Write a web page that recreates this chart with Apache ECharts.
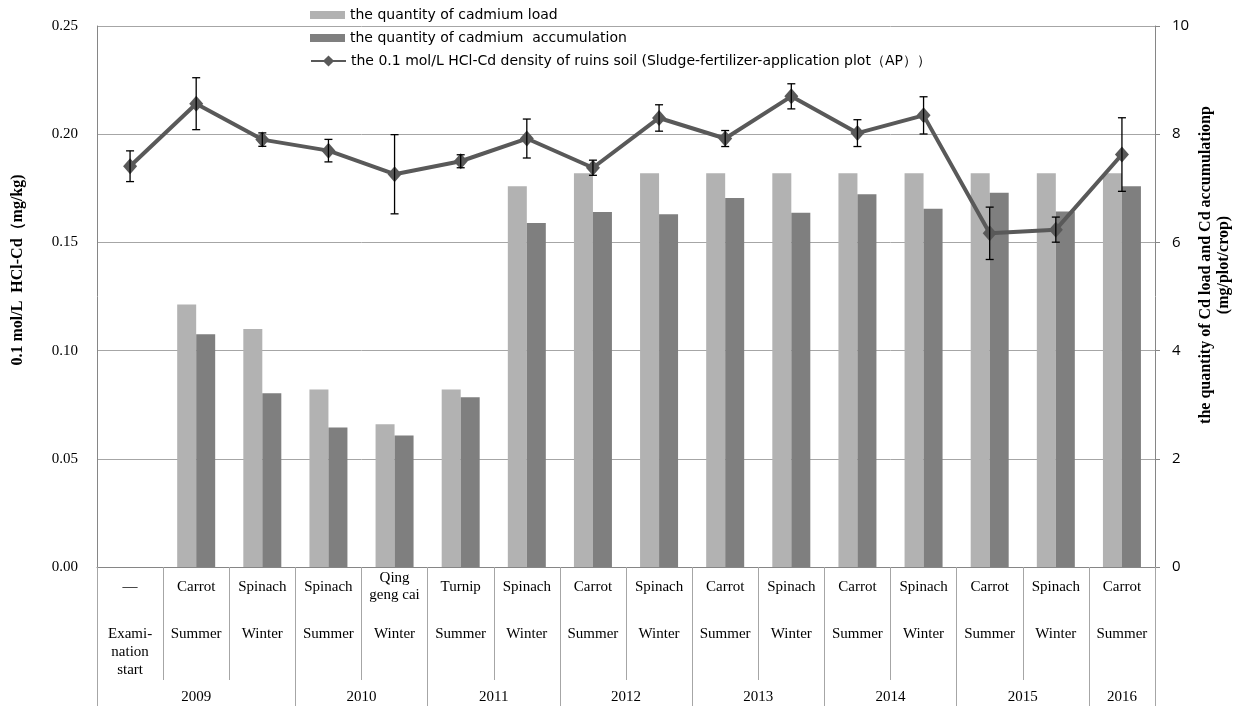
<!DOCTYPE html>
<html><head><meta charset="utf-8">
<script src="https://cdn.jsdelivr.net/npm/echarts@6/dist/echarts.min.js"></script>
<style>html,body{margin:0;padding:0;background:#fff}#c{width:1240px;height:706px}</style>
</head><body><div id="c"></div>
<script>
// ---- data ----
const crops = ['—','Carrot','Spinach','Spinach','Qing\ngeng cai','Turnip','Spinach','Carrot','Spinach','Carrot','Spinach','Carrot','Spinach','Carrot','Spinach','Carrot'];
const seasons = ['Exami-\nnation\nstart','Summer','Winter','Summer','Winter','Summer','Winter','Summer','Winter','Summer','Winter','Summer','Winter','Summer','Winter','Summer'];
const years = ['2009','2010','2011','2012','2013','2014','2015','2016'];
const yearSpans = [3,2,2,2,2,2,2,1];
const cdLoad = [null,4.85,4.40,3.28,2.64,3.28,7.04,7.28,7.28,7.28,7.28,7.28,7.28,7.28,7.28,7.28];
const cdAccum = [null,4.30,3.21,2.58,2.43,3.14,6.36,6.56,6.52,6.82,6.55,6.89,6.62,6.92,6.57,7.04];
const hclCd = [0.1852,0.2141,0.1975,0.1924,0.1815,0.1875,0.1980,0.1845,0.2075,0.1980,0.2175,0.2005,0.2087,0.1542,0.1559,0.1906];
const hclErr = [0.0071,0.0120,0.0031,0.0052,0.0183,0.0030,0.0090,0.0035,0.0061,0.0037,0.0058,0.0062,0.0086,0.0121,0.0058,0.0170];
const leftTickLabels = ['0.00','0.05','0.10','0.15','0.20','0.25'];
const rightTickLabels = ['0','2','4','6','8','10'];
const nameLoad = 'the quantity of cadmium load';
const nameAccum = 'the quantity of cadmium  accumulation';
const nameHcl = 'the 0.1 mol/L HCl-Cd density of ruins soil (Sludge-fertilizer-application plot（AP））';
const leftTitle = '0.1 mol/L  HCl-Cd（mg/kg)';
const rightTitle1 = 'the quantity of Cd load and Cd accumulationp';
const rightTitle2 = '(mg/plot/crop)';

// year boundaries / centres derived from spans
const yearBounds = [0];
yearSpans.forEach(s => yearBounds.push(yearBounds[yearBounds.length-1] + s));
const yearCenters = yearSpans.map((s,i) => yearBounds[i] + s/2);

const serif = '"Liberation Serif","Times New Roman",serif';
const sans = '"Open Sans","Liberation Sans",sans-serif';
const legendFont = '"DejaVu Sans",sans-serif';
const gridCol = '#a6a6a6';
const axisCol = '#868686';

const chart = echarts.init(document.getElementById('c'), null, {renderer:'canvas'});
chart.setOption({
  animation:false,
  backgroundColor:'#fff',
  grid:{left:97, right:85, top:26, bottom:139, containLabel:false},
  legend:[
    {data:[{name:nameLoad, icon:'rect'}], left:310, top:7, padding:0, itemWidth:35, itemHeight:8, itemGap:5,
     textStyle:{fontFamily:legendFont, fontSize:14, color:'#000', lineHeight:16}},
    {data:[{name:nameAccum, icon:'rect'}], left:310, top:30, padding:0, itemWidth:35, itemHeight:8, itemGap:5,
     textStyle:{fontFamily:legendFont, fontSize:14, color:'#000', lineHeight:16}},
    {data:[{name:nameHcl}], left:310, top:53, padding:0, itemWidth:35, itemHeight:14, itemGap:5,
     textStyle:{fontFamily:legendFont, fontSize:14, color:'#000', lineHeight:16}}
  ],
  xAxis:[
    {type:'category', data:crops, position:'bottom', boundaryGap:true,
     axisLine:{show:true, lineStyle:{color:axisCol, width:1}},
     axisTick:{show:true, interval:0, length:113, lineStyle:{color:gridCol}},
     axisLabel:{interval:0, margin:20, verticalAlign:'middle', fontFamily:serif, fontSize:15, color:'#000', lineHeight:17},
     splitLine:{show:false}},
    {type:'category', data:seasons, position:'bottom', boundaryGap:true,
     axisLine:{show:false}, axisTick:{show:false},
     axisLabel:{interval:0, margin:58, fontFamily:serif, fontSize:15, color:'#000', lineHeight:18}},
    {type:'value', min:0, max:yearBounds[yearBounds.length-1], position:'bottom',
     axisLine:{show:false}, splitLine:{show:false},
     axisTick:{show:true, customValues:yearBounds, length:145, lineStyle:{color:gridCol}},
     axisLabel:{customValues:yearCenters, margin:123, fontFamily:serif, fontSize:15, color:'#000',
       formatter:v => years[yearCenters.indexOf(v)]}}
  ],
  yAxis:[
    {type:'value', position:'left', min:0, max:0.25, interval:0.05,
     axisLine:{show:true, lineStyle:{color:axisCol}}, axisTick:{show:false},
     axisLabel:{margin:19, fontFamily:serif, fontSize:15, color:'#000',
       formatter:(v)=>leftTickLabels[Math.round(v/0.05)]},
     splitLine:{show:true, lineStyle:{color:gridCol, width:1}}},
    {type:'value', position:'right', min:0, max:10, interval:2,
     axisLine:{show:true, lineStyle:{color:axisCol}},
     axisTick:{show:true, length:5, inside:false, lineStyle:{color:axisCol}},
     axisLabel:{margin:17, fontFamily:sans, fontSize:15, color:'#000',
       formatter:(v)=>rightTickLabels[Math.round(v/2)]},
     splitLine:{show:false}}
  ],
  series:[
    {name:nameLoad, type:'bar', xAxisIndex:0, yAxisIndex:1, data:cdLoad, barWidth:19, barGap:'0%',
     itemStyle:{color:'#b2b2b2'}},
    {name:nameAccum, type:'bar', xAxisIndex:0, yAxisIndex:1, data:cdAccum, barWidth:19, barGap:'0%',
     itemStyle:{color:'#7f7f7f'}},
    {name:nameHcl, type:'line', xAxisIndex:0, yAxisIndex:0, data:hclCd, z:4,
     symbol:'diamond', symbolSize:[14,16], showSymbol:true,
     lineStyle:{color:'#595959', width:4}, itemStyle:{color:'#595959'}},
    {type:'custom', xAxisIndex:0, yAxisIndex:0, z:6,
     data:hclCd.map((v,i)=>[i, v-hclErr[i], v+hclErr[i]]),
     encode:{x:0, y:[1,2]},
     renderItem:(params, api)=>{
       const lo = api.coord([api.value(0), api.value(1)]);
       const hi = api.coord([api.value(0), api.value(2)]);
       const hw = 4;
       const st = {stroke:'#000', lineWidth:1.3};
       return {type:'group', children:[
         {type:'line', shape:{x1:lo[0], y1:lo[1], x2:hi[0], y2:hi[1]}, style:st},
         {type:'line', shape:{x1:lo[0]-hw, y1:lo[1], x2:lo[0]+hw, y2:lo[1]}, style:st},
         {type:'line', shape:{x1:hi[0]-hw, y1:hi[1], x2:hi[0]+hw, y2:hi[1]}, style:st}
       ]};
     }}
  ],
  graphic:[
    {type:'text', x:18, y:270, rotation:Math.PI/2,
     style:{text:leftTitle, font:'bold 16px '+serif, fill:'#000', align:'center', verticalAlign:'middle'}},
    {type:'text', x:1206, y:265, rotation:Math.PI/2,
     style:{text:rightTitle1, font:'bold 16px '+serif, fill:'#000', align:'center', verticalAlign:'middle'}},
    {type:'text', x:1224, y:265, rotation:Math.PI/2,
     style:{text:rightTitle2, font:'bold 16px '+serif, fill:'#000', align:'center', verticalAlign:'middle'}}
  ]
});
</script></body></html>
